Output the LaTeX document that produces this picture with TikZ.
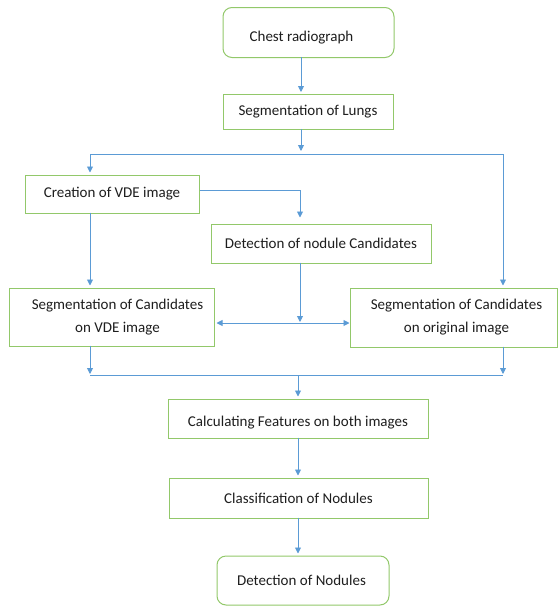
\documentclass[tikz,border=0pt]{standalone}
\usepackage{fontspec}
\setmainfont{Carlito}
\usetikzlibrary{arrows.meta}
\definecolor{boxgreen}{RGB}{146,200,106}
\definecolor{arrblue}{RGB}{91,155,213}
\definecolor{txt}{RGB}{30,30,30}
\begin{document}
\begin{tikzpicture}[x=1pt,y=-1pt,
  box/.style={draw=boxgreen,line width=1pt,fill=white,text=txt,align=center,
    inner sep=0pt,font=\fontsize{15}{23}\selectfont},
  rbox/.style={box,rounded corners=9pt},
  link/.style={draw=arrblue,line width=0.9pt},
  arr/.style={link,-{Triangle[length=6pt,width=6pt]},shorten >=2pt},
  arrb/.style={link,{Triangle[length=6pt,width=6pt]}-{Triangle[length=6pt,width=6pt]}}]
\useasboundingbox (0,0) rectangle (558,606);
\node[rbox,minimum width=171pt,minimum height=50pt] (chest) at (308.5,32.5) {\raisebox{-5pt}[\height][\depth]{Chest radiograph}\hspace*{14pt}};
\node[box,minimum width=170pt,minimum height=35pt] (lungs) at (308,112) {Segmentation of Lungs};
\node[box,minimum width=174pt,minimum height=38pt] (vde) at (112,194) {Creation of VDE image};
\node[box,minimum width=220pt,minimum height=39pt] (cand) at (321,243.5) {Detection of nodule Candidates};
\node[box,minimum width=205pt,minimum height=58pt] (segv) at (111.5,317) {\hspace*{12pt}Segmentation of Candidates\\\hspace*{12pt}on VDE image};
\node[box,minimum width=207pt,minimum height=59pt] (sego) at (453.5,317.5) {\hspace*{6pt}Segmentation of Candidates\\\hspace*{6pt}on original image};
\node[box,minimum width=260pt,minimum height=39pt] (calc) at (298,418.5) {\raisebox{-4pt}[\height][\depth]{Calculating Features on both images}};
\node[box,minimum width=259pt,minimum height=40pt] (clas) at (298.5,498) {Classification of Nodules};
\node[rbox,minimum width=172pt,minimum height=49pt] (det) at (303,580.5) {\hspace*{-3pt}Detection of Nodules};
\coordinate (j1) at (301,154);
\coordinate (jl) at (90,154);
\coordinate (jr) at (503,154);
\coordinate (xc) at (300,190);
\coordinate (jm) at (300,323);
\coordinate (jbl) at (90,375);
\coordinate (jbr) at (503,375);
\coordinate (jb) at (298,375);
\draw[arr] ([yshift=1pt]chest.south -| j1) -- (lungs.north -| j1);
\draw[arr,shorten >=3pt] ([yshift=1pt]lungs.south -| j1) -- (j1);
\draw[link] (jl) -- (jr);
\draw[arr] (jl) -- (vde.north -| jl);
\draw[arr] (jr) -- (sego.north -| jr);
\draw[arr,shorten >=6pt] (vde.east |- xc) -| (cand.north -| xc);
\draw[arr] ([yshift=1pt]vde.south -| jl) -- (segv.north -| jl);
\draw[arr,shorten >=1pt] ([yshift=1pt]cand.south -| xc) -- (jm);
\draw[arrb] ([xshift=2pt]segv.east |- jm) -- (sego.west |- jm);
\draw[arr,shorten >=1pt] ([yshift=1pt]segv.south -| jbl) -- (jbl);
\draw[arr,shorten >=1pt] ([yshift=1pt]sego.south -| jbr) -- (jbr);
\draw[link] (jbl) -- (jbr);
\draw[arr] (jb) -- (calc.north -| jb);
\draw[arr] ([yshift=1pt]calc.south -| jb) -- (clas.north -| jb);
\draw[arr] ([yshift=1pt]clas.south -| jb) -- (det.north -| jb);
\end{tikzpicture}
\end{document}
